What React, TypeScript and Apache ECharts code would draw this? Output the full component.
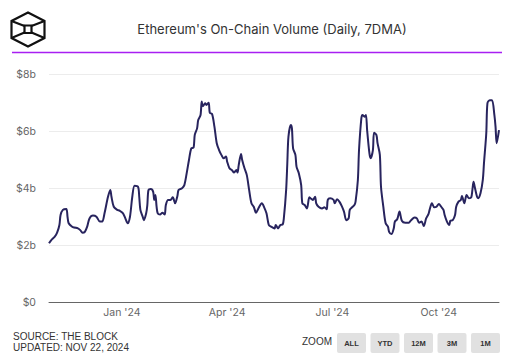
import React, { useEffect, useRef } from "react";
import * as echarts from "echarts";

const START_DATE = "2023-10-30";
const TITLE = "Ethereum's On-Chain Volume (Daily, 7DMA)";
const yTicks = [0, 2, 4, 6, 8];
const xTickDates = ["2024-01-01", "2024-04-01", "2024-07-01", "2024-10-01"];
const monthNames = ["Jan", "Feb", "Mar", "Apr", "May", "Jun", "Jul", "Aug", "Sep", "Oct", "Nov", "Dec"];
const zoomButtons = ["ALL", "YTD", "12M", "3M", "1M"];
const TOTAL_DAYS = 389;

// day offsets from START_DATE and volume in $ billions (7DMA)
const dayOffsets = [
  0, 2, 5, 7, 9, 10, 12, 15, 16, 17, 20, 22, 25, 27, 29, 31, 33, 35, 38, 41,
  44, 46, 48, 51, 53, 54, 56, 59, 61, 64, 66, 68, 70, 72, 74, 77, 78, 79, 81, 82,
  84, 85, 86, 88, 90, 91, 92, 93, 94, 96, 98, 100, 101, 103, 105, 107, 109, 111, 112, 115,
  117, 119, 121, 123, 125, 126, 128, 129, 131, 132, 133, 135, 136, 138, 139, 141, 143, 145, 147, 149,
  151, 153, 154, 156, 158, 160, 162, 163, 164, 166, 167, 169, 171, 173, 175, 177, 179, 181, 184, 186,
  188, 190, 192, 195, 196, 198, 200, 202, 203, 205, 206, 207, 209, 210, 211, 213, 214, 216, 218, 219,
  221, 223, 225, 226, 228, 230, 231, 233, 236, 238, 240, 241, 243, 246, 247, 249, 251, 253, 255, 257,
  259, 260, 262, 264, 265, 267, 268, 270, 271, 273, 274, 275, 277, 278, 280, 281, 283, 284, 286, 287,
  289, 291, 293, 294, 296, 298, 299, 301, 303, 305, 308, 311, 313, 316, 318, 320, 322, 324, 326, 328,
  329, 331, 333, 335, 337, 339, 341, 342, 344, 346, 347, 349, 351, 352, 354, 356, 357, 359, 361, 363,
  365, 366, 367, 368, 370, 371, 373, 375, 376, 378, 379, 381, 383, 385, 386, 387, 389,
];
const volumes = [
  2.08, 2.19, 2.31, 2.45, 2.72, 3.07, 3.25, 3.28, 3.01, 2.78, 2.66, 2.63, 2.6, 2.54, 2.45, 2.48, 2.66, 2.95, 3.05, 3.01,
  2.84, 2.84, 3.13, 3.71, 3.95, 3.71, 3.36, 3.25, 3.22, 3.13, 2.95, 2.78, 3.01, 3.71, 4.1, 4.06, 3.71, 3.25, 3.01, 2.89,
  3.13, 3.42, 3.95, 3.98, 3.89, 3.6, 3.77, 3.36, 3.13, 3.09, 3.15, 3.09, 3.42, 3.6, 3.6, 3.69, 3.48, 3.74, 3.95, 4.01,
  4.12, 4.53, 5.0, 5.41, 5.44, 5.88, 6.11, 6.4, 6.58, 7.05, 6.89, 6.99, 6.93, 7.01, 6.66, 6.61, 6.17, 5.59, 5.35, 5.18,
  5.06, 5.12, 4.94, 4.71, 4.65, 4.56, 4.65, 4.56, 4.82, 5.21, 5.0, 4.71, 4.47, 3.95, 3.48, 3.36, 3.15, 3.3, 3.48, 3.34,
  3.13, 2.72, 2.66, 2.6, 2.72, 2.6, 2.72, 2.74, 2.95, 3.95, 4.88, 5.82, 6.23, 6.11, 5.41, 5.18, 4.76, 4.53, 4.12, 3.48,
  3.42, 3.3, 3.69, 3.66, 3.6, 3.71, 3.48, 3.36, 3.3, 3.34, 3.27, 3.6, 3.66, 3.6, 3.48, 3.62, 3.54, 3.39, 3.19, 2.89,
  2.95, 3.25, 3.34, 3.42, 3.54, 4.3, 5.35, 6.46, 6.58, 6.52, 6.58, 6.05, 5.23, 5.06, 5.35, 5.96, 5.88, 5.59, 5.18, 4.06,
  3.36, 2.78, 2.66, 2.48, 2.4, 2.6, 2.84, 2.92, 3.19, 2.87, 2.8, 2.8, 2.89, 2.98, 2.95, 2.8, 2.84, 2.68, 2.95, 3.1,
  3.25, 3.48, 3.34, 3.36, 3.46, 3.36, 3.25, 3.07, 2.84, 2.72, 2.87, 2.89, 3.07, 3.36, 3.54, 3.6, 3.74, 3.48, 3.77, 3.66,
  3.69, 3.95, 4.24, 4.06, 3.71, 3.66, 3.83, 4.3, 4.88, 5.94, 6.99, 7.1, 7.1, 6.58, 6.17, 5.59, 6.05,
];

const DAY = 86400000;
const toTs = (s: string) => {
  const [y, m, d] = s.split("-").map(Number);
  return Date.UTC(y, m - 1, d);
};

export default function App() {
  const ref = useRef<HTMLDivElement>(null);

  useEffect(() => {
    document.body.style.margin = "0";
    if (!ref.current) return;
    const chart = echarts.init(ref.current, undefined, { renderer: "svg" });
    const start = toTs(START_DATE);
    const seriesData = dayOffsets.map((d, i) => [d, volumes[i]]);
    const tickOffsets = xTickDates.map((s) => Math.round((toTs(s) - start) / DAY));

    const btnW = 29;
    const btnGap = 4.5;
    const btnX0 = 337;
    const buttons = zoomButtons.map((label, i) => ({
      type: "group",
      x: btnX0 + i * (btnW + btnGap),
      y: 333,
      children: [
        { type: "rect", shape: { x: 0, y: 0, width: btnW, height: 20, r: 2 }, style: { fill: "#e1e1e1" } },
        {
          type: "text",
          x: btnW / 2,
          y: 10.5,
          style: {
            text: label,
            fill: "#333",
            font: "bold 7.5px 'Liberation Sans', Arial, sans-serif",
            textAlign: "center",
            textVerticalAlign: "middle",
          },
        },
      ],
    }));

    const lw = 2.2;
    const logo = {
      type: "group",
      x: 0,
      y: 0,
      children: [
        {
          type: "polygon",
          shape: { points: [[28, 12.5], [44.5, 21], [44.5, 38], [28, 46.5], [11.5, 38], [11.5, 21]] },
          style: { fill: "none", stroke: "#111", lineWidth: lw },
        },
        { type: "line", shape: { x1: 11.5, y1: 21, x2: 24.5, y2: 26 }, style: { stroke: "#111", lineWidth: lw } },
        { type: "line", shape: { x1: 44.5, y1: 21, x2: 31.5, y2: 26 }, style: { stroke: "#111", lineWidth: lw } },
        { type: "line", shape: { x1: 11.5, y1: 38, x2: 24.5, y2: 32.5 }, style: { stroke: "#111", lineWidth: lw } },
        { type: "line", shape: { x1: 44.5, y1: 38, x2: 31.5, y2: 32.5 }, style: { stroke: "#111", lineWidth: lw } },
        {
          type: "rect",
          shape: { x: 24.5, y: 25.5, width: 7, height: 7.5 },
          style: { fill: "none", stroke: "#111", lineWidth: lw },
        },
      ],
    };

    chart.setOption({
      animation: false,
      backgroundColor: "#fff",
      grid: { left: 49, right: 10, top: 74.5, bottom: 53.5, containLabel: false },
      xAxis: {
        type: "value",
        min: 0,
        max: TOTAL_DAYS,
        axisLine: { show: true, onZero: false, lineStyle: { color: "#666", width: 1 } },
        axisTick: { show: false },
        splitLine: { show: false },
        axisLabel: {
          customValues: tickOffsets,
          margin: 4,
          color: "#666",
          fontSize: 10.5,
          fontFamily: "Inter, 'Noto Sans', sans-serif",
          formatter: (v: number) => {
            const d = new Date(start + v * DAY);
            return `${monthNames[d.getUTCMonth()]} '${String(d.getUTCFullYear()).slice(2)}`;
          },
        },
      },
      yAxis: {
        type: "value",
        min: yTicks[0],
        max: yTicks[yTicks.length - 1],
        interval: 2,
        axisLine: { show: false },
        axisTick: { show: false },
        splitLine: { show: true, lineStyle: { color: "#ececec", width: 1 } },
        axisLabel: {
          margin: 13,
          color: "#666",
          fontSize: 10.5,
          fontFamily: "Inter, 'Noto Sans', sans-serif",
          formatter: (v: number) => (v === 0 ? "$0" : `$${v}b`),
        },
      },
      series: [
        {
          type: "line",
          data: seriesData,
          showSymbol: false,
          smooth: 0.3,
          lineStyle: { color: "#28245e", width: 2 },
          itemStyle: { color: "#28245e" },
        },
      ],
      graphic: [
        logo,
        {
          type: "text",
          x: 272,
          y: 29,
          style: {
            text: TITLE,
            fill: "#333",
            font: "13px Inter, 'Noto Sans', sans-serif",
            textAlign: "center",
            textVerticalAlign: "middle",
          },
        },
        { type: "line", shape: { x1: 12, y1: 52.5, x2: 502, y2: 52.5 }, style: { stroke: "#a81ff2", lineWidth: 1.3 } },
        {
          type: "text",
          x: 13,
          y: 336.5,
          style: {
            text: "SOURCE: THE BLOCK",
            fill: "#333",
            font: "10px 'Liberation Sans', Arial, sans-serif",
            textVerticalAlign: "middle",
          },
        },
        {
          type: "text",
          x: 13,
          y: 347.5,
          style: {
            text: "UPDATED: NOV 22, 2024",
            fill: "#333",
            font: "10px 'Liberation Sans', Arial, sans-serif",
            textVerticalAlign: "middle",
          },
        },
        {
          type: "text",
          x: 302,
          y: 341.5,
          style: {
            text: "ZOOM",
            fill: "#333",
            font: "10px 'Liberation Sans', Arial, sans-serif",
            textVerticalAlign: "middle",
          },
        },
        ...buttons,
      ],
    });
    return () => chart.dispose();
  }, []);

  return <div ref={ref} style={{ position: "absolute", left: 0, top: 0, width: 509, height: 356 }} />;
}
